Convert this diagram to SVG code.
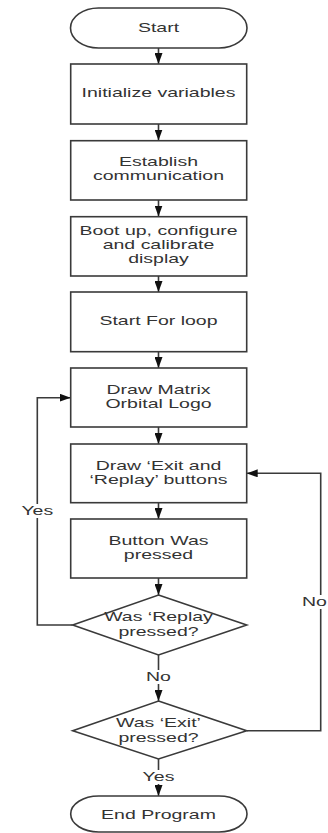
<svg xmlns="http://www.w3.org/2000/svg" width="328" height="833" viewBox="0 0 328 833">
<style>
.shape{fill:#fff;stroke:#3a3a3a;stroke-width:1.6}
.line{fill:none;stroke:#3a3a3a;stroke-width:1.6}
text{font-family:"Liberation Sans",Arial,sans-serif;font-size:13px;fill:#333;text-anchor:middle}
.bg{fill:#fff}
</style>
<defs>
<marker id="ah" viewBox="0 0 11 8" refX="11" refY="4" markerWidth="11" markerHeight="8" markerUnits="userSpaceOnUse" orient="auto">
<path d="M0,0 L11,4 L0,8 Z" fill="#111"/>
</marker>
</defs>
<rect x="0" y="0" width="328" height="833" fill="#fff"/>
<g id="connectors">
<path class="line" d="M158.5 48 V64" marker-end="url(#ah)"/>
<path class="line" d="M158.5 124 V140.5" marker-end="url(#ah)"/>
<path class="line" d="M158.5 200 V216.5" marker-end="url(#ah)"/>
<path class="line" d="M158.5 276 V292" marker-end="url(#ah)"/>
<path class="line" d="M158.5 352 V368" marker-end="url(#ah)"/>
<path class="line" d="M158.5 427 V444" marker-end="url(#ah)"/>
<path class="line" d="M158.5 503 V519" marker-end="url(#ah)"/>
<path class="line" d="M158.5 578 V595" marker-end="url(#ah)"/>
<path class="line" d="M158.5 655 V701" marker-end="url(#ah)"/>
<path class="line" d="M158.5 759 V796" marker-end="url(#ah)"/>
<path class="line" d="M72.7 625 H37.3 V397.7 H70.7" marker-end="url(#ah)"/>
<path class="line" d="M246.7 730.7 H320.7 V473.3 H246.7" marker-end="url(#ah)"/>
<rect class="bg" x="20" y="504" width="34" height="14"/>
<text transform="matrix(1.5 0 0 1 -18.65 0)" x="37.3" y="515.5">Yes</text>
<rect class="bg" x="301" y="595" width="27" height="14"/>
<text transform="matrix(1.5 0 0 1 -157.25 0)" x="314.5" y="606.5">No</text>
<rect class="bg" x="144" y="670" width="29" height="14"/>
<text transform="matrix(1.5 0 0 1 -79.25 0)" x="158.5" y="681.5">No</text>
<rect class="bg" x="140" y="770" width="36" height="14"/>
<text transform="matrix(1.5 0 0 1 -79.25 0)" x="158.5" y="781.5">Yes</text>
</g>
<g id="start">
<rect class="shape" x="70.5" y="8" width="176.5" height="40" rx="28" ry="20"/>
<text transform="matrix(1.5 0 0 1 -79.25 0)" x="158.5" y="32.5">Start</text>
</g>
<g id="init">
<rect class="shape" x="70.7" y="64" width="176" height="60"/>
<text transform="matrix(1.5 0 0 1 -79.25 0)" x="158.5" y="97.5">Initialize variables</text>
</g>
<g id="comm">
<rect class="shape" x="70.7" y="140.7" width="176" height="59.3"/>
<text transform="matrix(1.5 0 0 1 -79.25 0)" x="158.5" y="166.5">Establish</text>
<text transform="matrix(1.5 0 0 1 -79.25 0)" x="158.5" y="180.5">communication</text>
</g>
<g id="boot">
<rect class="shape" x="70.7" y="216.7" width="176" height="59.3"/>
<text transform="matrix(1.5 0 0 1 -79.25 0)" x="158.5" y="235.5">Boot up, configure</text>
<text transform="matrix(1.5 0 0 1 -79.25 0)" x="158.5" y="249.5">and calibrate</text>
<text transform="matrix(1.5 0 0 1 -79.25 0)" x="158.5" y="263.5">display</text>
</g>
<g id="forloop">
<rect class="shape" x="70.7" y="292" width="176" height="59.7"/>
<text transform="matrix(1.5 0 0 1 -79.25 0)" x="158.5" y="325.5">Start For loop</text>
</g>
<g id="logo">
<rect class="shape" x="70.7" y="368" width="176" height="59"/>
<text transform="matrix(1.5 0 0 1 -79.25 0)" x="158.5" y="394">Draw Matrix</text>
<text transform="matrix(1.5 0 0 1 -79.25 0)" x="158.5" y="408">Orbital Logo</text>
</g>
<g id="buttons">
<rect class="shape" x="70.7" y="444" width="176" height="58.7"/>
<text transform="matrix(1.5 0 0 1 -79.25 0)" x="158.5" y="470">Draw ‘Exit and</text>
<text transform="matrix(1.5 0 0 1 -79.25 0)" x="158.5" y="484">‘Replay’ buttons</text>
</g>
<g id="pressed">
<rect class="shape" x="70.7" y="519" width="176" height="59"/>
<text transform="matrix(1.5 0 0 1 -79.25 0)" x="158.5" y="545.5">Button Was</text>
<text transform="matrix(1.5 0 0 1 -79.25 0)" x="158.5" y="559.5">pressed</text>
</g>
<g id="replay">
<polygon class="shape" points="158.5,595 246.7,625 158.5,655 72.7,625"/>
<text transform="matrix(1.5 0 0 1 -79.25 0)" x="158.5" y="621.5">Was ‘Replay</text>
<text transform="matrix(1.5 0 0 1 -79.25 0)" x="158.5" y="636.5">pressed?</text>
</g>
<g id="exit">
<polygon class="shape" points="158.5,701 246.7,730.7 158.5,759 72.7,730.7"/>
<text transform="matrix(1.5 0 0 1 -79.25 0)" x="158.5" y="727.5">Was ‘Exit’</text>
<text transform="matrix(1.5 0 0 1 -79.25 0)" x="158.5" y="742">pressed?</text>
</g>
<g id="end">
<rect class="shape" x="70.7" y="796" width="176.3" height="36" rx="28" ry="18"/>
<text transform="matrix(1.5 0 0 1 -79.25 0)" x="158.5" y="819.5">End Program</text>
</g>
</svg>
